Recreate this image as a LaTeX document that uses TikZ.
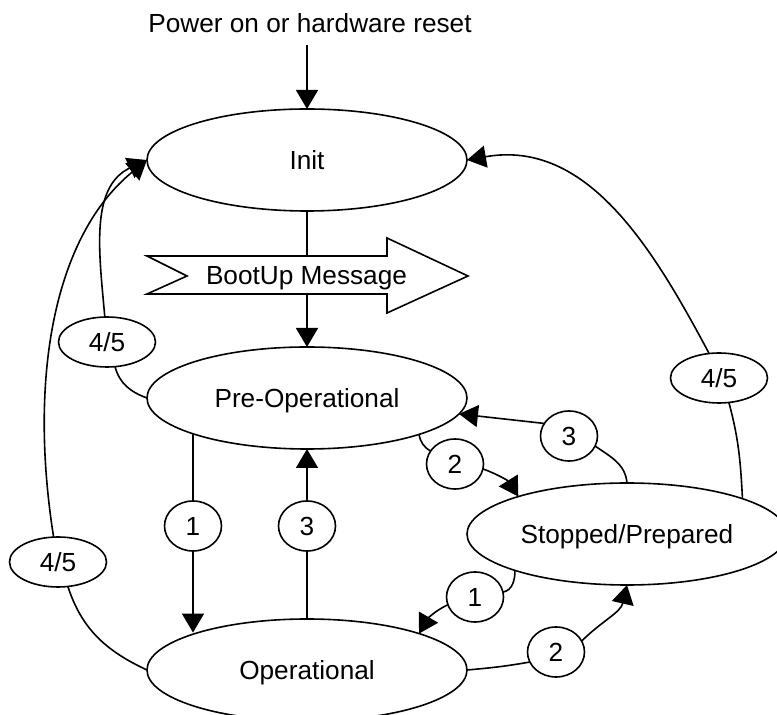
\documentclass[tikz,border=0pt]{standalone}
\usepackage{fontspec}
\setmainfont{Liberation Sans}
\usetikzlibrary{shapes.geometric,arrows.meta}
\begin{document}
\begin{tikzpicture}[x=1pt,y=1pt,line width=1.6pt,
  every node/.style={font=\fontsize{26.2}{30}\selectfont,text height=18.8pt,text depth=0pt,inner sep=0pt,outer sep=0pt},
  state/.style={draw,ellipse,minimum width=320pt,minimum height=102pt},
  tag/.style={draw,ellipse,minimum width=57pt,minimum height=50pt},
  tagwide/.style={draw,ellipse,minimum width=97pt,minimum height=50pt},
  arr/.style={-{Triangle[length=19pt,width=22pt]}},
  bootbox/.style={draw,fill=white}]
\useasboundingbox (0,0) rectangle (777,715);
\node (title) at (310,691.5) {Power on or hardware reset};
\coordinate (pwr) at (307,670);
\node[state] (init) at (307,555) {Init};
\node[state] (preop) at (307,317) {Pre-Operational};
\node[state] (oper) at (307,45) {Operational};
\node[state] (stop) at (627,181) {Stopped/Prepared};
\node[tagwide] (ta) at (107,373) {4/5};
\node[tagwide] (tb) at (58,153) {4/5};
\node[tagwide] (tc) at (719,337) {4/5};
\node[tag] (t1a) at (193,189) {1};
\node[tag] (t3a) at (307,189) {3};
\node[tag] (t2a) at (455,251) {2};
\node[tag] (t3b) at (569,279) {3};
\node[tag] (t1b) at (475,118) {1};
\node[tag] (t2b) at (556,63) {2};
% power on
\draw[arr] (pwr) -- (init.north);
% init -> preop with bootup message
\draw[arr] (init.south) -- (preop.north);
\draw[bootbox] (147,459) -- (387,459) -- (387,477) -- (468,439) -- (387,402) -- (387,421) -- (147,421) -- (187,439) -- cycle;
\node (boot) at (306.5,439.5) {BootUp Message};
% preop -> init (4/5)
\draw (preop.west) to[out=160,in=-75] (ta.-72);
\draw[arr] (ta.95) to[out=95,in=205] (init.west);
% oper -> init (4/5)
\draw (oper.west) to[out=155,in=-72] (tb.-68);
\draw[arr] (tb.100) .. controls (28,340) and (55,480) .. (init.west);
% preop -> oper (1)
\draw (t1a.north |- preop.197.5) -- (t1a.north);
\draw[arr] (t1a.south) -- (t1a.south |- oper.161.6);
% oper -> preop (3)
\draw (oper.north) -- (t3a.south);
\draw[arr] (t3a.north) -- (preop.south);
% preop -> stopped (2)
\draw (preop.-18.7) to[out=-80,in=150] (t2a.152);
\draw[arr] (t2a.-10) to[out=-20,in=122] (stop.161.7);
% stopped -> preop (3)
\draw (stop.north) to[out=95,in=-35] (t3b.-21);
\draw[arr] (t3b.153) -- (preop.-6);
% stopped -> init (4/5)
\draw (stop.17) to[out=93,in=-75] (tc.-68);
\draw[arr] (tc.112) to[out=118,in=10] (init.east);
% stopped -> oper (1)
\draw (stop.198.4) to[out=-90,in=10] (t1b.10);
\draw[arr] (t1b.196) to[out=205,in=60] (oper.18);
% oper -> stopped (2)
\draw (oper.east) to[out=5,in=190] (t2b.201);
\draw[arr] (t2b.23) to[out=45,in=-103] (stop.south);
\end{tikzpicture}
\end{document}
